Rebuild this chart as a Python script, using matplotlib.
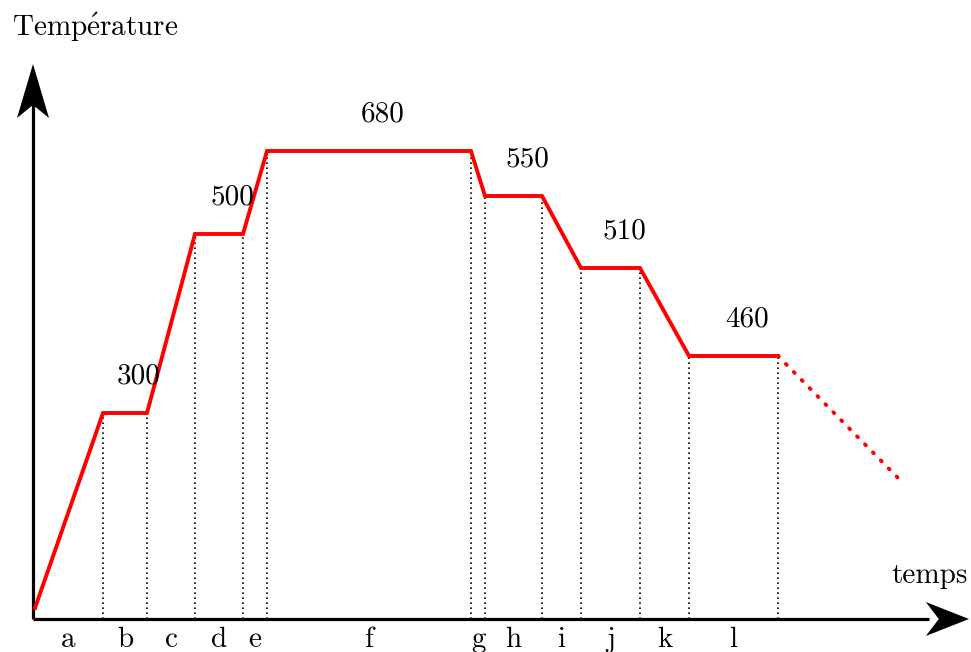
import matplotlib
matplotlib.use("Agg")
import matplotlib.pyplot as plt
from matplotlib.patches import Polygon

plt.rcParams["mathtext.fontset"] = "cm"
plt.rcParams["font.family"] = ["cmr10", "DejaVu Serif"]

# Schematic heat-treatment cycle (time and height in drawing units)
times = [2, 70, 114, 162, 210, 234, 438, 452, 509, 548, 607, 656, 745]
heights = [11, 206, 206, 385, 385, 468, 468, 423, 423, 351, 351, 263, 263]
cooling_time = [745, 870]
cooling_height = [263, 136]

# Plateau temperatures (°C) and the index of the first point of each plateau
temperatures = [300, 500, 680, 550, 510, 460]
plateau_start = [1, 3, 5, 7, 9, 11]

# Phase letters, one per interval between consecutive breakpoints
phases = ["a", "b", "c", "d", "e", "f", "g", "h", "i", "j", "k", "l"]

RED = "#ff0000"
FS = 21

fig = plt.figure(figsize=(9.71, 6.52), dpi=100)
ax = fig.add_axes([0, 0, 1, 1])
ax.set_xlim(-33, 938)
ax.set_ylim(-33, 619)
ax.axis("off")

# Axes lines with stealth-style arrowheads
x_tip, y_tip = 936, 555
ax.plot([0, x_tip - 40], [0, 0], color="black", lw=2.3, solid_capstyle="butt")
ax.plot([0, 0], [0, y_tip - 40], color="black", lw=2.3, solid_capstyle="butt")
head_len, half_w, notch = 54, 16, 13
ax.add_patch(Polygon([(0, y_tip), (-half_w, y_tip - head_len), (0, y_tip - head_len + notch),
                      (half_w, y_tip - head_len)], closed=True, color="black", lw=0))
ax.add_patch(Polygon([(x_tip, 0), (x_tip - head_len * 0.8, half_w + 1),
                      (x_tip - head_len * 0.8 + notch, 0), (x_tip - head_len * 0.8, -half_w - 1)],
                     closed=True, color="black", lw=0))

# Vertical dotted guides from the time axis up to the curve
for t, h in zip(times[1:], heights[1:]):
    ax.plot([t, t], [0, h], color="black", lw=1.2, linestyle=(0, (1, 2)), zorder=2)

# Temperature profile
ax.plot(times, heights, color=RED, lw=2.8, solid_joinstyle="miter", zorder=3)
ax.plot(cooling_time, cooling_height, color=RED, lw=2.8, linestyle=(0, (0.3, 2.6)),
        dash_capstyle="round", zorder=3)

# Plateau temperature labels
for temp, i in zip(temperatures, plateau_start):
    mid = (times[i] + times[i + 1]) / 2
    ax.annotate(str(temp), xy=(mid, heights[i]), xytext=(10, 21), textcoords="offset points",
                ha="center", va="baseline", fontsize=FS)

# Phase letters under the time axis
bounds = [0] + times[1:]
for k, letter in enumerate(phases):
    if k + 1 >= len(bounds):
        break
    mid = (bounds[k] + bounds[k + 1]) / 2
    ax.text(mid, -28, letter, ha="center", va="baseline", fontsize=FS)

# Axis titles
ax.text(-21, 583, r"$\mathrm{Temp\acute{e}rature}$", ha="left", va="baseline", fontsize=FS)
ax.text(935, 36, "temps", ha="right", va="baseline", fontsize=FS)

fig.savefig("out.png", dpi=100)
